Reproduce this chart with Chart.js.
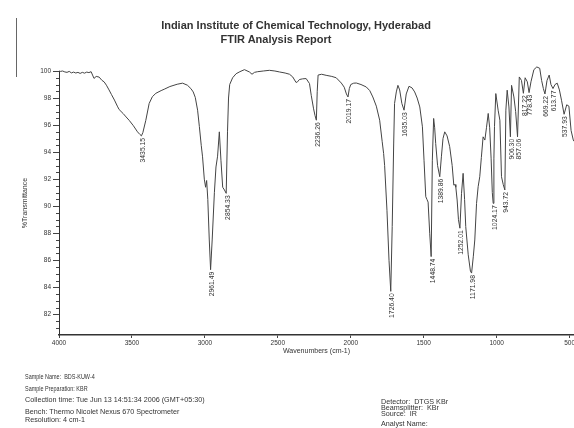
<!DOCTYPE html>
<html>
<head>
<meta charset="utf-8">
<script src="https://cdn.jsdelivr.net/npm/chart.js@4.4.0/dist/chart.umd.min.js"></script>
<style>
  body { margin: 0; background: #fff; }
  #wrap { position: relative; width: 574px; height: 428px; overflow: hidden; }
  #chart { position: absolute; left: 0; top: 0; }
  .txt { position: absolute; font-family: "Liberation Sans", Arial, sans-serif; color: #333; white-space: nowrap; line-height: 1; }
  .title { font-weight: bold; font-size: 11px; text-align: center; width: 320px; }
  .info { font-size: 7.2px; }
  .narrow { display: inline-block; font-size: 7.6px; transform: scaleX(0.72); transform-origin: left center; }
  .scanline { position: absolute; left: 16px; top: 18px; width: 1px; height: 59px; background: #666; }
</style>
</head>
<body>
<div id="wrap">
  <canvas id="chart" width="574" height="428"></canvas>
  <div class="scanline"></div>
  <div class="txt title" style="left:136px; top:20px;">Indian Institute of Chemical Technology, Hyderabad</div>
  <div class="txt title" style="left:116px; top:34px;">FTIR Analysis Report</div>

  <div class="txt info" style="left:25px; top:372.5px;"><span class="narrow">Sample Name:&nbsp; BDS-KUW-4</span></div>
  <div class="txt info" style="left:25px; top:384.5px;"><span class="narrow">Sample Preparation: KBR</span></div>
  <div class="txt info" style="left:25px; top:396px;">Collection time: Tue Jun 13 14:51:34 2006 (GMT+05:30)</div>
  <div class="txt info" style="left:25px; top:408px;">Bench: Thermo Nicolet Nexus 670 Spectrometer</div>
  <div class="txt info" style="left:25px; top:415.5px;">Resolution: 4 cm-1</div>

  <div class="txt info" style="left:381px; top:398px;">Detector:&nbsp; DTGS KBr</div>
  <div class="txt info" style="left:381px; top:404px;">Beamsplitter:&nbsp; KBr</div>
  <div class="txt info" style="left:381px; top:410px;">Source:&nbsp; IR</div>
  <div class="txt info" style="left:381px; top:420px;">Analyst Name:</div>
</div>

<script>
// spectrum (wavenumber cm-1 / %T)
const wavenumbers = [
  4000, 3990, 3975, 3960, 3945, 3930, 3915, 3900, 3885, 3870, 3855, 3840, 3825, 3810, 3795, 3780,
  3770, 3760, 3745, 3725, 3705, 3691, 3675, 3657, 3640, 3620, 3600, 3588, 3560, 3540, 3519, 3490,
  3462, 3445, 3435, 3425, 3405, 3382, 3360, 3336, 3300, 3279, 3240, 3190, 3153, 3120, 3096, 3080,
  3066, 3050, 3038, 3025, 3016, 3004, 2995, 2988, 2980, 2970, 2961, 2950, 2935, 2924, 2913, 2901,
  2890, 2878, 2866, 2854, 2845, 2838, 2830, 2810, 2786, 2760, 2729, 2695, 2677, 2660, 2638, 2600,
  2558, 2520, 2489, 2450, 2420, 2398, 2375, 2365, 2352, 2330, 2306, 2283, 2271, 2255, 2245, 2236,
  2230, 2224, 2200, 2169, 2130, 2100, 2065, 2045, 2030, 2019, 2010, 2000, 1980, 1962, 1930, 1894,
  1870, 1849, 1825, 1802, 1785, 1775, 1768, 1752, 1738, 1726, 1716, 1706, 1700, 1688, 1677, 1665,
  1650, 1635, 1620, 1601, 1580, 1562, 1545, 1527, 1509, 1498, 1486, 1478, 1470, 1459, 1449, 1441,
  1432, 1425, 1418, 1405, 1390, 1379, 1368, 1356, 1340, 1322, 1305, 1294, 1285, 1280, 1271, 1262,
  1252, 1241, 1230, 1220, 1212, 1195, 1180, 1172, 1160, 1150, 1138, 1127, 1116, 1105, 1093, 1081,
  1070, 1058, 1048, 1038, 1030, 1024, 1019, 1015, 1006, 990, 978, 967, 955, 944, 937, 928,
  916, 906, 898, 882, 870, 857, 845, 830, 817, 805, 790, 778, 765, 745, 725, 705,
  692, 680, 669, 655, 640, 628, 614, 600, 585, 570, 555, 538, 520, 505, 490, 475, 470
];
const transmittance = [
  100.0, 99.97, 100.0, 99.93, 99.9, 99.97, 99.86, 99.92, 99.85, 99.9, 99.82, 99.9, 99.84, 99.92, 99.88, 99.95,
  99.7, 99.45, 99.6, 99.55, 99.3, 99.2, 98.95, 98.6, 98.25, 97.85, 97.4, 97.15, 96.85, 96.6, 96.35, 95.95,
  95.5, 95.3, 95.2, 95.45, 96.35, 97.6, 98.1, 98.35, 98.55, 98.65, 98.85, 99.02, 99.1, 98.95, 98.7, 98.45,
  98.05, 97.1, 95.9, 94.5, 93.65, 92.0, 91.4, 91.9, 90.5, 87.5, 85.3, 87.5, 91.0, 92.9, 93.7, 95.5,
  93.4, 91.4, 91.2, 90.95, 95.5, 98.0, 99.0, 99.5, 99.8, 99.95, 100.1, 99.93, 99.76, 99.9, 99.95, 100.0,
  100.05, 100.0, 99.93, 99.85, 99.76, 99.56, 99.15, 99.2, 99.37, 99.42, 99.44, 99.07, 98.2, 97.2, 96.7, 96.36,
  98.5, 99.7, 99.76, 99.68, 99.6, 99.5, 99.11, 98.8, 98.3, 98.08, 98.7, 99.0, 99.1, 99.11, 99.0, 98.82,
  98.55, 98.08, 97.4, 96.36, 94.8, 93.9, 93.0, 89.7, 86.0, 83.7, 88.5, 94.6, 97.6, 98.45, 98.94, 98.6,
  97.6, 97.1, 98.3, 98.87, 98.75, 98.45, 98.0, 97.34, 95.87, 93.4, 90.7, 90.5, 90.3, 88.0, 86.27, 93.4,
  96.49, 95.8, 94.64, 93.0, 92.18, 93.65, 95.0, 95.5, 95.2, 94.4, 93.0, 91.56, 91.6, 91.4, 90.46, 89.0,
  88.37, 90.95, 92.43, 90.5, 88.49, 86.4, 85.2, 85.05, 86.3, 87.5, 90.2, 91.44, 92.18, 93.6, 95.13, 94.89,
  95.8, 96.86, 95.8, 93.5, 91.0, 90.21, 93.5, 95.9, 98.33, 97.1, 96.36, 92.18, 91.6, 91.2, 97.1, 98.58,
  97.34, 95.13, 98.94, 98.08, 97.0, 95.13, 99.56, 99.3, 98.35, 99.5, 99.2, 98.4, 99.2, 100.1, 100.3, 100.2,
  99.3, 98.7, 98.3, 99.3, 99.7, 99.0, 98.7, 99.0, 99.1, 98.6, 97.8, 96.8, 97.5, 97.4, 95.6, 94.9, 94.8
];

// labelled band minima
const peakWavenumbers = [3435.15, 2961.49, 2854.33, 2236.26, 2019.17, 1726.40, 1635.03, 1448.74, 1389.86,
  1252.01, 1171.98, 1024.17, 943.72, 906.30, 857.06, 817.22, 778.43, 669.22, 613.77, 537.93];
const peakTransmittance = [95.2, 85.3, 90.95, 96.36, 98.08, 83.7, 97.1, 86.27, 92.18,
  88.37, 85.05, 90.21, 91.2, 95.13, 95.13, 98.35, 98.4, 98.3, 98.7, 96.8];

const xTicks = [4000, 3500, 3000, 2500, 2000, 1500, 1000, 500];
const yTicks = [82, 84, 86, 88, 90, 92, 94, 96, 98, 100];

const FONT = '"Liberation Sans", Arial, sans-serif';
const INK = '#333';

// short ticks every 0.5 %T on the y axis
const minorTicks = {
  id: 'minorTicks',
  afterDraw(chart) {
    const { ctx, scales: { y } } = chart;
    ctx.save();
    ctx.strokeStyle = '#444';
    ctx.lineWidth = 1;
    for (let v = 81; v < 100; v += 0.5) {
      if (v % 2 === 0) continue;
      const py = Math.round(y.getPixelForValue(v)) + 0.5;
      ctx.beginPath();
      ctx.moveTo(y.right - 3, py);
      ctx.lineTo(y.right, py);
      ctx.stroke();
    }
    ctx.restore();
  }
};

// vertical wavenumber labels under each band
const peakLabels = {
  id: 'peakLabels',
  afterDatasetsDraw(chart) {
    const { ctx, scales: { x, y } } = chart;
    ctx.save();
    ctx.font = '6.8px ' + FONT;
    ctx.fillStyle = INK;
    ctx.textAlign = 'right';
    ctx.textBaseline = 'middle';
    peakWavenumbers.forEach((wn, i) => {
      const px = x.getPixelForValue(wn);
      const py = y.getPixelForValue(peakTransmittance[i]);
      ctx.save();
      ctx.translate(px + 1.5, py + 2);
      ctx.rotate(-Math.PI / 2);
      ctx.fillText(wn.toFixed(2), 0, 0);
      ctx.restore();
    });
    ctx.restore();
  }
};

new Chart(document.getElementById('chart'), {
  type: 'line',
  data: {
    datasets: [{
      data: wavenumbers.map((wn, i) => ({ x: wn, y: transmittance[i] })),
      borderColor: '#444',
      borderWidth: 1,
      pointRadius: 0,
      tension: 0,
      fill: false,
      clip: false
    }]
  },
  options: {
    responsive: false,
    animation: false,
    layout: { padding: { top: 71, left: 0, right: 0, bottom: 0 } },
    plugins: { legend: { display: false }, tooltip: { enabled: false } },
    scales: {
      x: {
        type: 'linear',
        reverse: true,
        min: 470,
        max: 4000,
        afterBuildTicks: s => { s.ticks = xTicks.map(v => ({ value: v })); },
        afterFit: s => { s.height = 93; s.paddingLeft = 0; s.paddingRight = 0; },
        ticks: { autoSkip: false, maxRotation: 0, padding: 1, color: INK, font: { size: 6.5, family: FONT }, callback: v => String(v) },
        grid: { drawOnChartArea: false, tickLength: 3, color: '#444' },
        border: { color: '#333', width: 1.5 },
        title: { display: true, text: 'Wavenumbers (cm-1)', color: INK, font: { size: 7, family: FONT }, padding: { top: 0, bottom: 73 } }
      },
      y: {
        min: 80.47,
        max: 100,
        afterBuildTicks: s => { s.ticks = yTicks.map(v => ({ value: v })); },
        afterFit: s => { s.width = 59; s.paddingTop = 0; s.paddingBottom = 0; },
        ticks: { padding: 2, color: INK, font: { size: 6.5, family: FONT }, callback: v => String(v) },
        grid: { drawOnChartArea: false, tickLength: 6, color: '#444' },
        border: { color: '#333', width: 1 },
        title: { display: true, text: '%Transmittance', color: INK, font: { size: 7, family: FONT }, padding: { top: 21, bottom: 0 } }
      }
    }
  },
  plugins: [minorTicks, peakLabels]
});
</script>
</body>
</html>
